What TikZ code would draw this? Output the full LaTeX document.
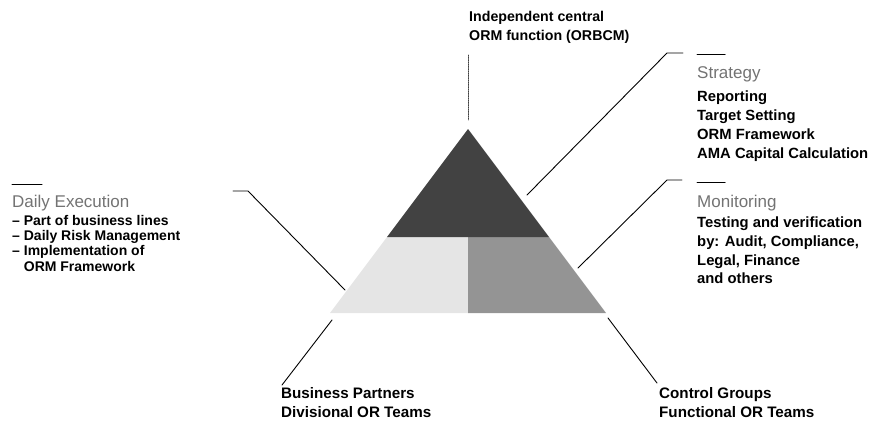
\documentclass[tikz,border=0pt]{standalone}
\usepackage{fontspec}
\setmainfont{Liberation Sans}
\begin{document}
\begin{tikzpicture}[x=1pt, y=-1pt, line cap=round, line join=round]
% ORM pyramid with role descriptions
\providecommand{\ormTopColor}{black!74}
\providecommand{\ormRightColor}{black!42}
\providecommand{\ormLeftColor}{black!10}
\providecommand{\ormHeadColor}{black!55}
\providecommand{\ormLeaderWidth}{0.9pt}
\tikzset{
  headtext/.style={anchor=north west, inner sep=0pt, text=\ormHeadColor, font=\fontsize{17}{20}\selectfont},
  bodytext/.style={anchor=north west, inner sep=0pt, align=left, font=\bfseries\fontsize{14.8}{19.1}\selectfont},
  leader/.style={draw=black, line width=\ormLeaderWidth},
  rule/.style={draw=black, line width=1pt},
}
\useasboundingbox (0,0) rectangle (869,429);
% Pyramid corners
\coordinate (apex) at (468,129);
\coordinate (midL) at (387,237);
\coordinate (midC) at (468,237);
\coordinate (midR) at (549,237);
\coordinate (botL) at (330,313);
\coordinate (botC) at (468,313);
\coordinate (botR) at (606,313);
% Pyramid parts
\fill[\ormLeftColor] (midL) -- (midC) -- (botC) -- (botL) -- cycle;
\fill[\ormRightColor] (midC) -- (midR) -- (botR) -- (botC) -- cycle;
\fill[\ormTopColor] (apex) -- (midR) -- (midL) -- cycle;
% Text blocks
\node[bodytext, font=\bfseries\fontsize{14.2}{19}\selectfont] (central) at (469,10.6) {Independent central\\ORM function (ORBCM)};
\node[headtext] (stratHead) at (697,66.8) {Strategy};
\node[bodytext] (stratBody) at (697,90.1) {Reporting\\Target Setting\\ORM Framework\\AMA Capital Calculation};
\node[headtext] (monHead) at (697,195.1) {Monitoring};
\node[bodytext, font=\bfseries\fontsize{14.8}{18.8}\selectfont] (monBody) at (697,216.5) {Testing and verification\\by: Audit, Compliance,\\Legal, Finance\\and others};
\node[headtext] (dailyHead) at (12,194.9) {Daily Execution};
\node[bodytext, font=\bfseries\fontsize{14}{15.3}\selectfont] (dailyBody) at (12,214.8) {– Part of business lines\\– Daily Risk Management\\– Implementation of\\\phantom{– }ORM Framework};
\node[bodytext, font=\bfseries\fontsize{15.2}{18.7}\selectfont] (partners) at (281,387.1) {Business Partners\\Divisional OR Teams};
\node[bodytext, font=\bfseries\fontsize{15.2}{18.7}\selectfont] (control) at (659,387.1) {Control Groups\\Functional OR Teams};
% Leader end points
\coordinate (centralTop) at (468,55);
\coordinate (centralEnd) at (468,120);
\coordinate (stratTip) at (527,195);
\coordinate (stratKnee) at (667,53);
\coordinate (stratEnd) at (683,53);
\coordinate (monTip) at (578,268);
\coordinate (monKnee) at (667,180);
\coordinate (monEnd) at (682,180);
\coordinate (dailyTip) at (345,290);
\coordinate (dailyKnee) at (248,191);
\coordinate (dailyEnd) at (233,191);
\coordinate (partTip) at (332,320);
\coordinate (partEnd) at (282,385);
\coordinate (ctrlTip) at (608,318);
\coordinate (ctrlEnd) at (657,383);
% Leaders
\draw[leader, line width=0.8pt, black!75, densely dotted] (centralTop) -- (centralEnd);
\draw[leader] (stratTip) -- (stratKnee) -- (stratEnd);
\draw[leader] (monTip) -- (monKnee) -- (monEnd);
\draw[leader] (dailyTip) -- (dailyKnee) -- (dailyEnd);
\draw[leader] (partTip) -- (partEnd);
\draw[leader] (ctrlTip) -- (ctrlEnd);
% Short rules above headings
\draw[rule] (697,54) -- (725,54);
\draw[rule] (697,182) -- (725,182);
\draw[rule] (12,184) -- (42,184);
\end{tikzpicture}
\end{document}
